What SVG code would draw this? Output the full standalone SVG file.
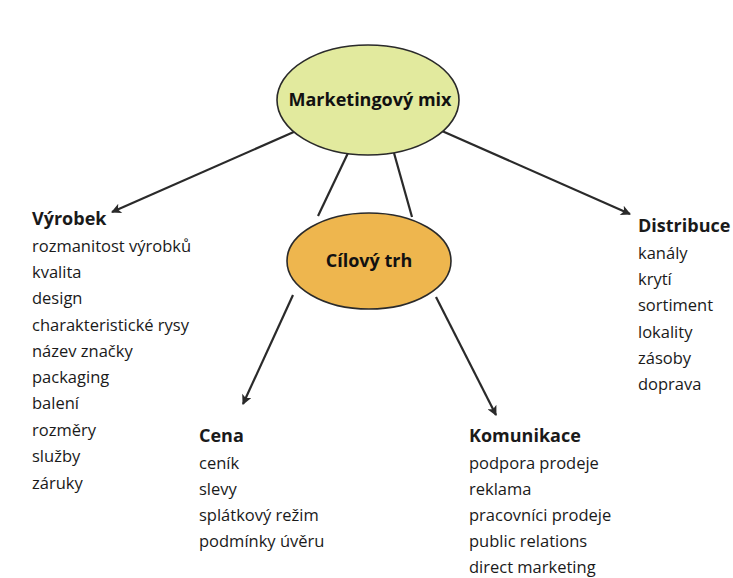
<svg xmlns="http://www.w3.org/2000/svg" width="733" height="578" viewBox="0 0 733 578">
<defs>
<marker id="ah" viewBox="0 0 10 10" refX="9" refY="5" markerWidth="15" markerHeight="10" markerUnits="userSpaceOnUse" orient="auto">
<path d="M0,0 L10,5 L0,10 L2.5,5 z" fill="#2a2a2a"/>
</marker>
<style>
.node ellipse{stroke:#2a2a2a;stroke-width:1.6}
.t{font-family:"Open Sans","Noto Sans",sans-serif;font-size:16.5px;fill:#1a1a1a}
.h{font-weight:bold;font-size:18px}
.c{font-family:"Open Sans","Noto Sans",sans-serif;font-weight:bold;font-size:18px;fill:#111;text-anchor:middle}
.conn line{stroke:#2a2a2a;stroke-width:2.2}
</style>
</defs>
<rect width="733" height="578" fill="#fff"/>
<g id="connectors" class="conn">
<line x1="296" y1="131" x2="112" y2="212" marker-end="url(#ah)"/>
<line x1="348" y1="153" x2="318" y2="216"/>
<line x1="394" y1="153" x2="412" y2="217"/>
<line x1="442" y1="131" x2="630" y2="214" marker-end="url(#ah)"/>
<line x1="293" y1="295" x2="243" y2="404" marker-end="url(#ah)"/>
<line x1="436" y1="297" x2="496" y2="415" marker-end="url(#ah)"/>
</g>
<g id="marketingovy-mix" class="node">
<ellipse cx="368" cy="100" rx="91" ry="55" fill="#e2ea9e"/>
<text class="c" x="370" y="106">Marketingový mix</text>
</g>
<g id="cilovy-trh" class="node">
<ellipse cx="369" cy="261" rx="82" ry="48" fill="#eeb64e"/>
<text class="c" x="369" y="267">Cílový trh</text>
</g>
<g id="vyrobek">
<text class="t h" x="32" y="225">Výrobek</text>
<text class="t" x="32" y="252">rozmanitost výrobků</text>
<text class="t" x="32" y="278">kvalita</text>
<text class="t" x="32" y="304">design</text>
<text class="t" x="32" y="331">charakteristické rysy</text>
<text class="t" x="32" y="357">název značky</text>
<text class="t" x="32" y="383">packaging</text>
<text class="t" x="32" y="409">balení</text>
<text class="t" x="32" y="436">rozměry</text>
<text class="t" x="32" y="462">služby</text>
<text class="t" x="32" y="489">záruky</text>
</g>
<g id="cena">
<text class="t h" x="199" y="442">Cena</text>
<text class="t" x="199" y="469">ceník</text>
<text class="t" x="199" y="495">slevy</text>
<text class="t" x="199" y="521">splátkový režim</text>
<text class="t" x="199" y="547">podmínky úvěru</text>
</g>
<g id="komunikace">
<text class="t h" x="469" y="442">Komunikace</text>
<text class="t" x="469" y="469">podpora prodeje</text>
<text class="t" x="469" y="495">reklama</text>
<text class="t" x="469" y="521">pracovníci prodeje</text>
<text class="t" x="469" y="547">public relations</text>
<text class="t" x="469" y="573">direct marketing</text>
</g>
<g id="distribuce">
<text class="t h" x="638" y="232">Distribuce</text>
<text class="t" x="638" y="259">kanály</text>
<text class="t" x="638" y="285">krytí</text>
<text class="t" x="638" y="311">sortiment</text>
<text class="t" x="638" y="338">lokality</text>
<text class="t" x="638" y="364">zásoby</text>
<text class="t" x="638" y="390">doprava</text>
</g>
</svg>
